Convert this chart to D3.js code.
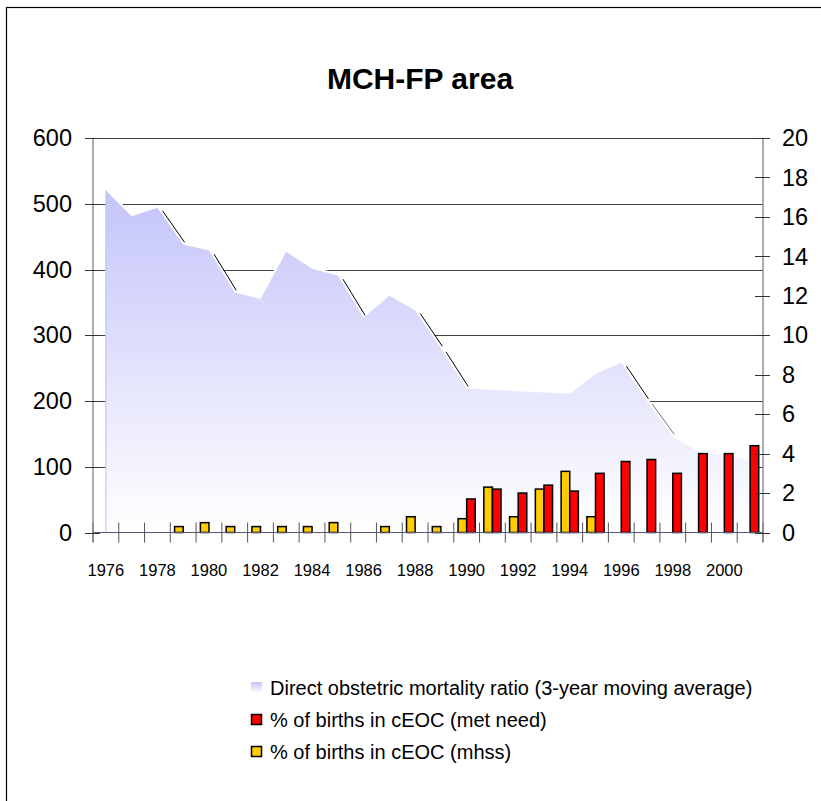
<!DOCTYPE html>
<html>
<head>
<meta charset="utf-8">
<script src="https://cdn.jsdelivr.net/npm/d3@7"></script>
<style>
  html, body { margin: 0; padding: 0; background: #fff; }
  svg { display: block; font-family: Arial, "Liberation Sans", sans-serif; }
</style>
</head>
<body>
<svg id="chart" width="821" height="801"></svg>
<script>
// ---- data ----
const years = d3.range(1976, 2002);
const mortalityRatio = [520, 481, 494, 438, 429, 365, 355, 427, 401, 391, 327, 360, 338, 280, 219, 217, 215, 213, 211, 241, 258, 200, 146, 123, 118, 110];
const birthsMhss = [null, null, null, 0.3, 0.5, 0.3, 0.3, 0.3, 0.3, 0.5, null, 0.3, 0.8, 0.3, 0.7, 2.3, 0.8, 2.2, 3.1, 0.8, null, null, null, null, null, null];
const birthsMetNeed = [null, null, null, null, null, null, null, null, null, null, null, null, null, null, 1.7, 2.2, 2.0, 2.4, 2.1, 3.0, 3.6, 3.7, 3.0, 4.0, 4.0, 4.4];
const leftTicks = [0, 100, 200, 300, 400, 500, 600];
const rightTicks = [0, 2, 4, 6, 8, 10, 12, 14, 16, 18, 20];
const xLabelYears = d3.range(1976, 2002, 2);
const title = "MCH-FP area";
const legendLabels = [
  "Direct obstetric mortality ratio (3-year moving average)",
  "% of births in cEOC (met need)",
  "% of births in cEOC (mhss)"
];

// ---- layout ----
const svg = d3.select("#chart");
const L = 93, R = 763, T = 138, B = 532.5;

const x = d3.scaleBand().domain(years).range([L, R]).padding(0);
const xSub = d3.scaleBand().domain(["mhss", "met"]).range([0, x.bandwidth()]).paddingInner(0).paddingOuter(0.5);
const yL = d3.scaleLinear().domain([0, 600]).range([B, T]);
const yR = d3.scaleLinear().domain([0, 20]).range([B, T]);

// border
svg.append("rect").attr("x", 6.5).attr("y", 7.5).attr("width", 840).attr("height", 840)
  .attr("fill", "none").attr("stroke", "#000").attr("stroke-width", 1.2);

// title
svg.append("text").attr("x", 420).attr("y", 89).attr("text-anchor", "middle")
  .attr("font-size", 30).attr("font-weight", "bold").attr("fill", "#000").text(title);

// defs gradient
const defs = svg.append("defs");
const grad = defs.append("linearGradient").attr("id", "areaGrad").attr("x1", 0).attr("y1", 0).attr("x2", 0).attr("y2", 1);
grad.append("stop").attr("offset", "0%").attr("stop-color", "#c4c4fa");
grad.append("stop").attr("offset", "100%").attr("stop-color", "#ffffff");

// gridlines (left axis)
svg.append("g").selectAll("line").data(leftTicks.filter(d => d > 0)).join("line")
  .attr("x1", L).attr("x2", R)
  .attr("y1", d => Math.round(yL(d)) + 0.5).attr("y2", d => Math.round(yL(d)) + 0.5)
  .attr("stroke", "#404040").attr("stroke-width", 1);

const pts = years.map((yr, i) => ({ yr, v: mortalityRatio[i] }));
const cx = d => x(d.yr) + x.bandwidth() / 2;

const topLine = d3.line().x(cx).y(d => yL(d.v));
// white outline
svg.append("path").attr("d", topLine(pts))
  .attr("fill", "none").attr("stroke", "#fff").attr("stroke-width", 4).attr("stroke-linejoin", "round");
// dark shadow on steep descending segments
const segs = [];
for (let i = 0; i < pts.length - 1; i++) {
  const x1 = cx(pts[i]), y1 = yL(pts[i].v), x2 = cx(pts[i + 1]), y2 = yL(pts[i + 1].v);
  const slope = (y2 - y1) / (x2 - x1);
  if (slope > 1.2) {
    const len = Math.hypot(x2 - x1, y2 - y1);
    const nx = (y2 - y1) / len * 2.4, ny = -(x2 - x1) / len * 2.4;
    const sh = 0.12;
    segs.push({
      x1: x1 + nx + (x2 - x1) * sh, y1: y1 + ny + (y2 - y1) * sh,
      x2: x2 + nx - (x2 - x1) * 0.02, y2: y2 + ny - (y2 - y1) * 0.02,
      o: slope > 1.4 ? 1 : 0.55
    });
  }
}
svg.append("g").selectAll("line").data(segs).join("line")
  .attr("x1", d => d.x1).attr("y1", d => d.y1).attr("x2", d => d.x2).attr("y2", d => d.y2)
  .attr("stroke", "#000").attr("stroke-width", 1).attr("stroke-opacity", d => d.o);
// area
const area = d3.area().x(cx).y0(yL(0)).y1(d => yL(d.v));
svg.append("path").attr("d", area(pts)).attr("fill", "url(#areaGrad)");
// left edge of area
svg.append("line").attr("x1", cx(pts[0])).attr("x2", cx(pts[0]))
  .attr("y1", yL(pts[0].v)).attr("y2", yL(0)).attr("stroke", "#c4c4ff").attr("stroke-width", 1.2);

// bars
const barData = [];
years.forEach((yr, i) => {
  if (birthsMhss[i] != null) barData.push({ yr, key: "mhss", v: birthsMhss[i] });
  if (birthsMetNeed[i] != null) barData.push({ yr, key: "met", v: birthsMetNeed[i] });
});
const barColor = { mhss: "#ffcc00", met: "#ff0000" };
svg.append("g").selectAll("rect").data(barData).join("rect")
  .attr("x", d => x(d.yr) + xSub(d.key))
  .attr("width", xSub.bandwidth())
  .attr("y", d => yR(d.v))
  .attr("height", d => yR(0) - yR(d.v))
  .attr("fill", d => barColor[d.key])
  .attr("stroke", "#000").attr("stroke-width", 1.5);

// x axis baseline
svg.append("line").attr("x1", L).attr("x2", R).attr("y1", B).attr("y2", B)
  .attr("stroke", "#5a5a78").attr("stroke-width", 1.2);
// x ticks at category boundaries
const xBounds = years.map(yr => x(yr)).concat([x.range()[1]]);
svg.append("g").selectAll("line").data(xBounds).join("line")
  .attr("x1", d => d).attr("x2", d => d).attr("y1", B - 10).attr("y2", B + 10)
  .attr("stroke", "#555").attr("stroke-width", 1);
// x labels
svg.append("g").selectAll("text").data(xLabelYears).join("text")
  .attr("x", d => x(d) + x.bandwidth() / 2).attr("y", 576)
  .attr("text-anchor", "middle").attr("font-size", 16.5).attr("fill", "#000")
  .text(d => d);

// left axis
svg.append("line").attr("x1", L).attr("x2", L).attr("y1", T).attr("y2", B + 10)
  .attr("stroke", "#808080").attr("stroke-width", 1.3);
svg.append("g").selectAll("line").data(leftTicks).join("line")
  .attr("x1", L - 8).attr("x2", L + 7)
  .attr("y1", d => Math.round(yL(d)) + 0.5).attr("y2", d => Math.round(yL(d)) + 0.5)
  .attr("stroke", "#333").attr("stroke-width", 1);
svg.append("g").selectAll("text").data(leftTicks).join("text")
  .attr("x", 72).attr("y", d => yL(d)).attr("dy", "0.35em")
  .attr("text-anchor", "end").attr("font-size", 23.5).attr("fill", "#000")
  .text(d => d);

// right axis
svg.append("line").attr("x1", R).attr("x2", R).attr("y1", T).attr("y2", B + 10)
  .attr("stroke", "#808080").attr("stroke-width", 1.3);
svg.append("g").selectAll("line").data(rightTicks).join("line")
  .attr("x1", R - 8).attr("x2", R + 7)
  .attr("y1", d => Math.round(yR(d)) + 0.5).attr("y2", d => Math.round(yR(d)) + 0.5)
  .attr("stroke", "#333").attr("stroke-width", 1);
svg.append("g").selectAll("text").data(rightTicks).join("text")
  .attr("x", 782).attr("y", d => yR(d)).attr("dy", "0.35em")
  .attr("text-anchor", "start").attr("font-size", 23.5).attr("fill", "#000")
  .text(d => d);

// legend
const legendRows = [
  { label: legendLabels[0], type: "area", y: 688 },
  { label: legendLabels[1], type: "met", y: 720 },
  { label: legendLabels[2], type: "mhss", y: 752 }
];
const lg = svg.append("g");
legendRows.forEach(r => {
  if (r.type === "area") {
    lg.append("rect").attr("x", 251).attr("y", r.y - 6).attr("width", 11).attr("height", 11)
      .attr("fill", "url(#areaGrad)");
  } else {
    lg.append("rect").attr("x", 251.5).attr("y", r.y - 5.5).attr("width", 10).attr("height", 10)
      .attr("fill", barColor[r.type]).attr("stroke", "#000").attr("stroke-width", 1.5);
  }
  lg.append("text").attr("x", 270).attr("y", r.y).attr("dy", "0.35em")
    .attr("font-size", 20).attr("fill", "#000").text(r.label);
});
</script>
</body>
</html>
